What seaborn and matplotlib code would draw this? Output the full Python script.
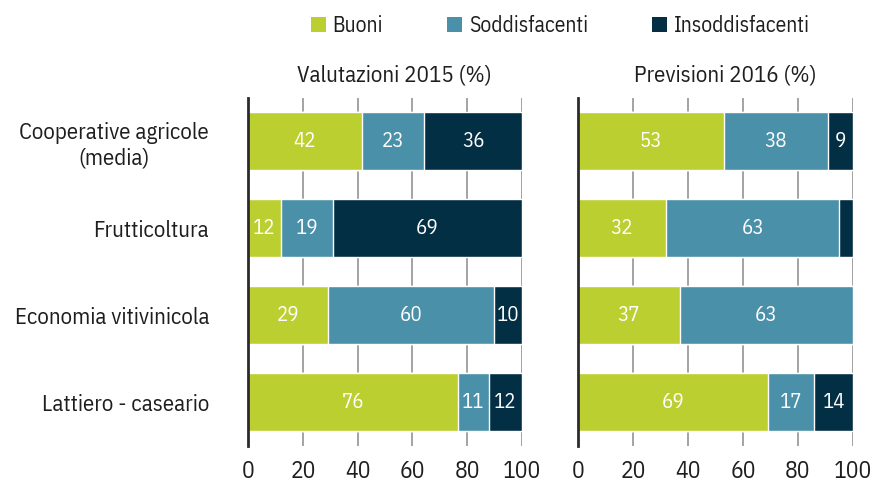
import numpy as np
import pandas as pd
import matplotlib
matplotlib.use("Agg")
import matplotlib.pyplot as plt
import seaborn as sns
from matplotlib.patches import Patch

categories = ["Cooperative agricole\n(media)", "Frutticoltura", "Economia vitivinicola", "Lattiero - caseario"]
series = ["Buoni", "Soddisfacenti", "Insoddisfacenti"]
colors = ["#bccf31", "#4a90a9", "#032f45"]

# valori (%)
buoni_2015 = [42, 12, 29, 76]
sodd_2015 = [23, 19, 60, 11]
insodd_2015 = [36, 69, 10, 12]

buoni_2016 = [53, 32, 37, 69]
sodd_2016 = [38, 63, 63, 17]
insodd_2016 = [9, 5, 0, 14]

titles = ["Valutazioni 2015 (%)", "Previsioni 2016 (%)"]
ticks = [0, 20, 40, 60, 80, 100]

sns.set_theme(style="white")
plt.rcParams['font.family'] = ['IBM Plex Sans Condensed', 'DejaVu Sans']
plt.rcParams['font.weight'] = 400
txt_col = "#1e1e1e"


def make_df(b, s, i):
    df = pd.DataFrame({"cat": categories, "Buoni": b, "Soddisfacenti": s, "Insoddisfacenti": i})
    tot = df[series].sum(axis=1)
    for c in series:
        df[c + "_n"] = df[c] / tot * 100
    return df


def draw_panel(ax, df, title, show_labels):
    # stacked bars: cumulative sums, drawn from the longest
    cum = df[[c + "_n" for c in series]].cumsum(axis=1)
    for k in reversed(range(3)):
        sns.barplot(x=cum.iloc[:, k], y=df["cat"], color=colors[k], orient="h",
                    width=0.667, saturation=1, ax=ax, zorder=2)
    left = np.zeros(len(df))
    for k, c in enumerate(series):
        w = df[c + "_n"].values
        for j in range(len(df)):
            if df[c].iloc[j] >= 8:
                ax.text(left[j] + w[j] / 2, j, str(df[c].iloc[j]), ha="center", va="center",
                        color="white", fontsize=15)
        left += w
    ax.set_xlim(0, 100)
    ax.set_ylim(3.5, -0.5)
    ax.set_xticks(ticks)
    ax.grid(axis="x", color="#8a8a8a", linewidth=1.1, zorder=0)
    ax.set_axisbelow(True)
    for sp in ["top", "right", "bottom"]:
        ax.spines[sp].set_visible(False)
    ax.spines["left"].set_color("#2b2b2b")
    ax.spines["left"].set_linewidth(2)
    ax.spines["left"].set_zorder(5)
    ax.tick_params(axis="x", length=0, pad=10, labelsize=17, colors=txt_col)
    ax.tick_params(axis="y", length=0, pad=28, labelsize=16.5, colors=txt_col)
    ax.set_xlabel("")
    ax.set_ylabel("")
    if not show_labels:
        ax.set_yticklabels([])
    else:
        for t in ax.get_yticklabels():
            t.set_horizontalalignment("right")
            t.set_multialignment("center")
    ax.set_title(title, fontsize=16.5, color=txt_col, pad=12, x=0.535)


fig = plt.figure(figsize=(8.74, 4.95), dpi=100)
ax1 = fig.add_axes([0.2838, 0.0996, 0.3135, 0.703])
ax2 = fig.add_axes([0.6613, 0.0996, 0.3146, 0.703])

draw_panel(ax1, make_df(buoni_2015, sodd_2015, insodd_2015), titles[0], True)
draw_panel(ax2, make_df(buoni_2016, sodd_2016, insodd_2016), titles[1], False)

handles = [Patch(facecolor=c, edgecolor="none") for c in colors]
fig.legend(handles, series, loc="upper center", bbox_to_anchor=(0.641, 1.008), ncol=3,
           frameon=False, fontsize=15.5, handlelength=0.7, handleheight=0.7,
           handletextpad=0.3, columnspacing=3.0, labelcolor=txt_col)

fig.savefig("out.png", dpi=100)
